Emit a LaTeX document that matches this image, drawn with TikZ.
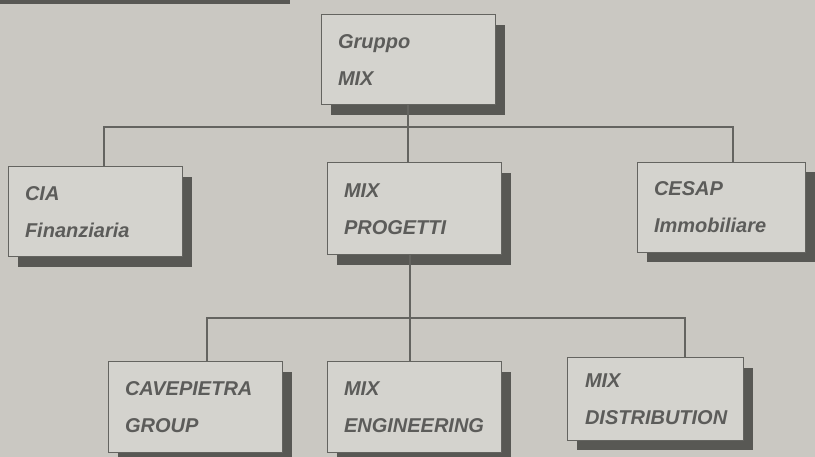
\documentclass[tikz,border=0pt]{standalone}
\usepackage{fontspec}
\setmainfont{Liberation Sans}
\usetikzlibrary{shadows}
\definecolor{paper}{RGB}{202,200,194}
\definecolor{boxfill}{RGB}{212,211,206}
\definecolor{boxshade}{RGB}{88,88,84}
\definecolor{boxline}{RGB}{100,100,96}
\definecolor{ink}{RGB}{92,92,90}
\begin{document}
\begin{tikzpicture}[x=1pt,y=-1pt,
  unit/.style={draw=boxline, line width=1pt, fill=boxfill, minimum width=174pt, minimum height=90pt, text width=140pt, inner xsep=17pt, align=left, text=ink, font=\fontsize{20}{37}\selectfont\bfseries\itshape, drop shadow={shadow xshift=10pt, shadow yshift=-10pt, fill=boxshade, opacity=1}},
  link/.style={draw=boxline, line width=1.4pt}]
\fill[paper] (0,0) rectangle (815,457);
\useasboundingbox (0,0) rectangle (815,457);
\fill[boxshade] (0,0) rectangle (290,4);
% top level
\node[unit] (grp) at (408,60) {Gruppo\\MIX};
\node[unit] (cia) at (95,212) {CIA\\Finanziaria};
\node[unit, minimum height=92pt] (prog) at (414,209) {MIX\\PROGETTI};
\node[unit, minimum width=168pt, text width=134pt] (cesap) at (721,207.5) {CESAP\\Immobiliare};
% second level
\node[unit] (cave) at (195,407) {CAVEPIETRA\\GROUP};
\node[unit] (eng) at (414,407) {MIX\\ENGINEERING};
\node[unit, minimum width=176pt, minimum height=82pt] (dist) at (655,399) {MIX\\DISTRIBUTION};
\coordinate (bus1) at (408,127);
\coordinate (bus2) at (410,318);
\draw[link] (grp.south) -- (grp.south |- prog.north);
\draw[link] ([xshift=9pt]cia.north) |- (bus1) -| ([xshift=12pt]cesap.north);
\draw[link] ([xshift=-4pt]prog.south) -- ([xshift=-4pt]eng.north);
\draw[link] ([xshift=12pt]cave.north) |- (bus2) -| ([xshift=30pt]dist.north);
\end{tikzpicture}
\end{document}
